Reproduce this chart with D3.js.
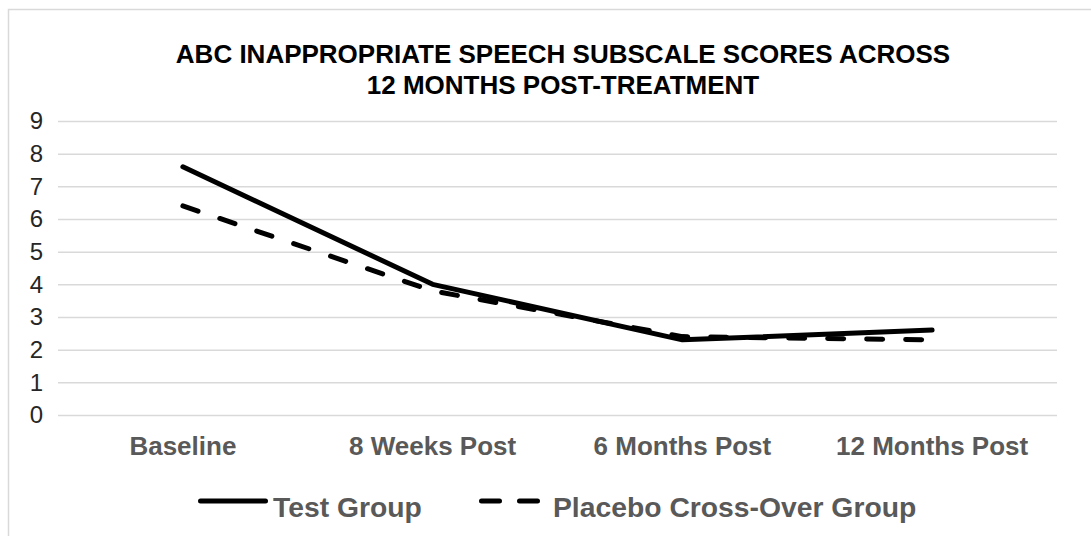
<!DOCTYPE html>
<html>
<head>
<meta charset="utf-8">
<script src="https://cdn.jsdelivr.net/npm/d3@7"></script>
<style>
  body { margin: 0; background: #fff; }
  svg { display: block; font-family: "Liberation Sans", Arial, sans-serif; }
</style>
</head>
<body>
<div id="chart"></div>
<script>
const categories = ["Baseline", "8 Weeks Post", "6 Months Post", "12 Months Post"];
const testGroup = [7.6, 4.0, 2.3, 2.6];
const placeboGroup = [6.4, 3.8, 2.4, 2.3];
const yTicks = [0, 1, 2, 3, 4, 5, 6, 7, 8, 9];
const titleLines = ["ABC INAPPROPRIATE SPEECH SUBSCALE SCORES ACROSS", "12 MONTHS POST-TREATMENT"];

const w = 1091, h = 536;
const margin = { t: 121, r: 34, b: 121, l: 58 };

const svg = d3.select("#chart").append("svg")
  .attr("width", w).attr("height", h);

// outer frame (runs off the right / bottom edge like the source)
svg.append("rect")
  .attr("x", 8.5).attr("y", 9.5)
  .attr("width", 1200).attr("height", 700)
  .attr("fill", "#fff").attr("stroke", "#d9d9d9").attr("stroke-width", 1.5);

// title
svg.append("g").selectAll("text").data(titleLines).join("text")
  .attr("x", 563).attr("y", (d, i) => 63 + i * 31)
  .attr("text-anchor", "middle")
  .attr("font-weight", "bold").attr("font-size", 26)
  .attr("fill", "#000")
  .text(d => d);

const x = d3.scaleBand().domain(categories).range([margin.l, w - margin.r]);
const y = d3.scaleLinear().domain([0, 9]).range([h - margin.b, margin.t]);

// grid
svg.append("g")
  .attr("transform", `translate(${margin.l},0)`)
  .call(d3.axisLeft(y).tickValues(yTicks).tickSize(-(w - margin.l - margin.r)).tickFormat(""))
  .call(g => g.select(".domain").remove())
  .call(g => g.selectAll("line").attr("stroke", "#d9d9d9").attr("stroke-width", 1.5));

// y axis labels
svg.append("g")
  .attr("transform", `translate(${margin.l},0)`)
  .call(d3.axisLeft(y).tickValues(yTicks).tickSize(0).tickPadding(15))
  .call(g => g.select(".domain").remove())
  .call(g => g.selectAll("text")
    .attr("font-size", 24).attr("fill", "#262626")
    .attr("font-family", "Liberation Sans, Arial, sans-serif"));

// x axis labels
svg.append("g")
  .attr("transform", `translate(0,${h - margin.b})`)
  .call(d3.axisBottom(x).tickSize(0).tickPadding(21.5))
  .call(g => g.select(".domain").remove())
  .call(g => g.selectAll("text")
    .attr("font-size", 26).attr("font-weight", "bold").attr("fill", "#595959")
    .attr("font-family", "Liberation Sans, Arial, sans-serif"));

const line = d3.line()
  .x((d, i) => x(categories[i]) + x.bandwidth() / 2)
  .y(d => y(d));

const series = [
  { name: "Test Group", values: testGroup, dash: null },
  { name: "Placebo Cross-Over Group", values: placeboGroup, dash: "16,23" }
];

svg.append("g").selectAll("path").data(series).join("path")
  .attr("d", d => line(d.values))
  .attr("fill", "none")
  .attr("stroke", "#000")
  .attr("stroke-width", 5)
  .attr("stroke-linecap", "round")
  .attr("stroke-linejoin", "round")
  .attr("stroke-dasharray", d => d.dash);

// legend
const legendY = 501;
const legendPos = [{ x1: 200.5, x2: 265.5, tx: 273 }, { x1: 481.5, x2: 537.5, tx: 553 }];
const legend = svg.append("g");
series.forEach((s, i) => {
  const p = legendPos[i];
  legend.append("line")
    .attr("x1", p.x1).attr("x2", p.x2)
    .attr("y1", legendY).attr("y2", legendY)
    .attr("stroke", "#000").attr("stroke-width", 5)
    .attr("stroke-linecap", "round")
    .attr("stroke-dasharray", s.dash ? "18,20" : null);
  legend.append("text")
    .attr("x", p.tx).attr("y", legendY + 16)
    .attr("font-size", 28.3).attr("font-weight", "bold").attr("fill", "#595959")
    .text(s.name);
});
</script>
</body>
</html>
